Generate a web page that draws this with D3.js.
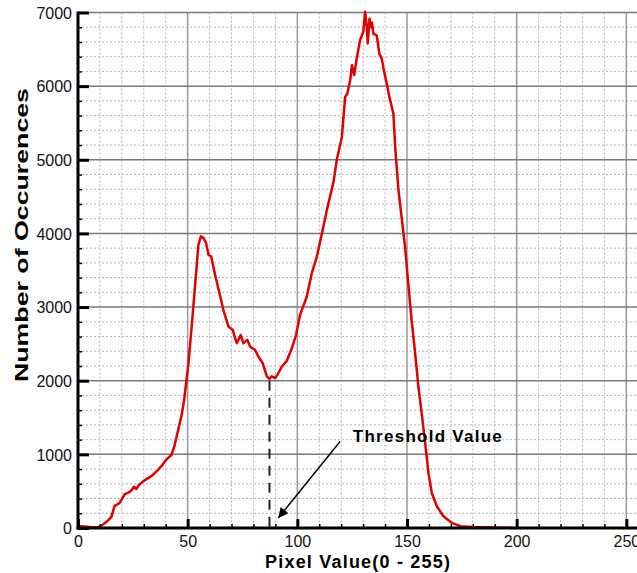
<!DOCTYPE html>
<html>
<head>
<meta charset="utf-8">
<script src="https://cdn.jsdelivr.net/npm/d3@7"></script>
<style>
body { margin: 0; background: #fff; }
svg { display: block; font-family: Arial, "Liberation Sans", sans-serif; }
</style>
</head>
<body>
<svg id="chart" width="637" height="573"></svg>
<script>
"use strict";

// histogram readings: pixel value -> number of occurences
var pixelValue = [0, 3, 6, 9, 10, 12, 14, 15.2, 16.7, 19, 21.3, 23, 24.3, 25.5, 26.6, 28, 29.6, 31, 32.7, 34.5,
    36.5, 38, 39.5, 41, 42.6, 44.1, 45.5, 47.1, 48.4, 50.3, 51.9, 53.4, 54.9, 56, 57.2, 58.4, 59.5, 60.7, 62.5, 64.5,
    66.3, 68.6, 70.6, 71.5, 72.4, 74.2, 75.4, 77.2, 78.5, 80.7, 82.2, 84.2, 86.1, 87.3, 88.3, 89.9, 90.9, 92.9, 95.2, 97.5,
    99.4, 101.3, 104.3, 106.6, 108.9, 111.2, 113.5, 116.5, 118, 120.3, 121.8, 122.8, 124.1, 124.9, 125.9, 127.1, 128.6, 130.1, 130.9, 131.6,
    132.1, 132.9, 133.5, 134, 134.7, 136.2, 137.4, 138.5, 139.5, 140.8, 142.3, 143.8, 144.6, 146.1, 147.7, 149.1, 150.7, 152.1, 153.7, 155.2,
    156.7, 158.3, 159.8, 161.3, 163.6, 166.6, 170.4, 174.3, 180, 186, 193, 200];
var occurrences = [25, 20, 10, 15, 20, 60, 110, 150, 300, 340, 460, 480, 510, 560, 530, 590, 630, 660, 690, 730,
    790, 840, 900, 950, 990, 1130, 1310, 1510, 1740, 2220, 2760, 3300, 3845, 3960, 3940, 3870, 3710, 3690, 3440, 3190,
    2960, 2735, 2690, 2590, 2510, 2620, 2510, 2555, 2460, 2420, 2330, 2240, 2060, 2025, 2060, 2035, 2080, 2190, 2270, 2440,
    2620, 2900, 3140, 3460, 3685, 4000, 4320, 4700, 5000, 5310, 5850, 5900, 6080, 6285, 6150, 6375, 6625, 6740, 7010, 6830,
    6580, 6915, 6800, 6865, 6710, 6690, 6440, 6370, 6210, 6030, 5810, 5630, 5180, 4590, 4180, 3820, 3280, 2825, 2375, 1920,
    1560, 1150, 745, 475, 295, 160, 70, 25, 15, 10, 5, 0];

var xMajorTicks = [0, 50, 100, 150, 200, 250];
var xMinorTicks = [10, 20, 30, 40, 60, 70, 80, 90, 110, 120, 130, 140, 160, 170, 180, 190, 210, 220, 230, 240];
var yMajorTicks = [0, 1000, 2000, 3000, 4000, 5000, 6000, 7000];
var yMinorTicks = [200, 400, 600, 800, 1200, 1400, 1600, 1800, 2200, 2400, 2600, 2800, 3200, 3400, 3600, 3800,
    4200, 4400, 4600, 4800, 5200, 5400, 5600, 5800, 6200, 6400, 6600, 6800];

var thresholdPixel = 87.3;
var thresholdTop = 2000;
var thresholdLabel = "Threshold Value";
var labelAt = [125.3, 1171];
var arrowFrom = [119.5, 1175];
var arrowTo = [91.3, 136];

var xTitle = "Pixel Value(0 - 255)";
var yTitle = "Number of Occurences";

var margin = { left: 78, top: 12.5, bottom: 45 };
var svg = d3.select("#chart");
var width = +svg.attr("width");
var height = +svg.attr("height");

var x = d3.scaleLinear().domain([0, 255]).range([margin.left, 637.3]);
var y = d3.scaleLinear().domain([0, 7000]).range([height - margin.bottom, margin.top]);

var x0 = x(0), xEnd = x(255), y0 = y(0), yTop = y(7000);

// minor dotted grid
var grid = svg.append("g").attr("class", "grid");

grid.selectAll("line.minorX")
    .data(xMinorTicks)
    .enter().append("line")
    .attr("x1", function(d) { return x(d); })
    .attr("x2", function(d) { return x(d); })
    .attr("y1", yTop).attr("y2", y0)
    .attr("stroke", "#b4b4b4").attr("stroke-width", 1)
    .attr("stroke-dasharray", "2,2");

grid.selectAll("line.minorY")
    .data(yMinorTicks)
    .enter().append("line")
    .attr("x1", x0).attr("x2", xEnd)
    .attr("y1", function(d) { return y(d); })
    .attr("y2", function(d) { return y(d); })
    .attr("stroke", "#b4b4b4").attr("stroke-width", 1)
    .attr("stroke-dasharray", "2,2");

// major grid
grid.selectAll("line.majorX")
    .data(xMajorTicks.slice(1))
    .enter().append("line")
    .attr("x1", function(d) { return x(d); })
    .attr("x2", function(d) { return x(d); })
    .attr("y1", yTop).attr("y2", y0)
    .attr("stroke", "#9a9a9a").attr("stroke-width", 1.5);

grid.selectAll("line.majorY")
    .data(yMajorTicks.slice(1))
    .enter().append("line")
    .attr("x1", x0).attr("x2", xEnd)
    .attr("y1", function(d) { return y(d); })
    .attr("y2", function(d) { return y(d); })
    .attr("stroke", "#7a7a7a").attr("stroke-width", 1.5);

// histogram curve
var line = d3.line()
    .x(function(d) { return x(d[0]); })
    .y(function(d) { return y(d[1]); });

svg.append("path")
    .datum(d3.zip(pixelValue, occurrences))
    .attr("d", line)
    .attr("fill", "none")
    .attr("stroke", "#e00000")
    .attr("stroke-width", 2.5)
    .attr("stroke-linejoin", "round");

// threshold marker
svg.append("line")
    .attr("x1", x(thresholdPixel)).attr("x2", x(thresholdPixel))
    .attr("y1", y(thresholdTop)).attr("y2", y0)
    .attr("stroke", "#222").attr("stroke-width", 2)
    .attr("stroke-dasharray", "10,7");

svg.append("defs").append("marker")
    .attr("id", "arrowHead")
    .attr("viewBox", "0 0 10 10")
    .attr("refX", 10).attr("refY", 5)
    .attr("markerUnits", "userSpaceOnUse")
    .attr("markerWidth", 17).attr("markerHeight", 10)
    .attr("orient", "auto")
    .append("path")
    .attr("d", "M0,0L10,5L0,10z")
    .attr("fill", "#000");

svg.append("line")
    .attr("x1", x(arrowFrom[0])).attr("y1", y(arrowFrom[1]))
    .attr("x2", x(arrowTo[0])).attr("y2", y(arrowTo[1]))
    .attr("stroke", "#000").attr("stroke-width", 1.5)
    .attr("marker-end", "url(#arrowHead)");

svg.append("text")
    .attr("x", x(labelAt[0])).attr("y", y(labelAt[1]))
    .attr("font-size", 17).attr("font-weight", "bold")
    .attr("textLength", 149)
    .attr("fill", "#000")
    .text(thresholdLabel);

// axes, ticks pointing inward
var minorLeft = d3.axisLeft(y).tickValues(yMinorTicks).tickSizeInner(-4).tickSizeOuter(0).tickFormat("");
var minorBottom = d3.axisBottom(x).tickValues(xMinorTicks).tickSizeInner(-4).tickSizeOuter(0).tickFormat("");

var majorLeft = d3.axisLeft(y).tickValues(yMajorTicks).tickSizeInner(-11).tickSizeOuter(0).tickPadding(6).tickFormat(d3.format("d"));
var majorBottom = d3.axisBottom(x).tickValues(xMajorTicks).tickSizeInner(-9).tickSizeOuter(0).tickPadding(4).tickFormat(d3.format("d"));

function styleAxis(g, w) {
    g.select(".domain").remove();
    g.selectAll(".tick line").attr("stroke", "#000").attr("stroke-width", w);
    g.selectAll(".tick text").attr("fill", "#111").attr("font-size", 16).attr("font-family", null);
}

svg.append("g").attr("transform", "translate(" + x0 + ",0)").call(minorLeft).call(styleAxis, 1.5);
svg.append("g").attr("transform", "translate(0," + y0 + ")").call(minorBottom).call(styleAxis, 1.5);

var leftAxis = svg.append("g").attr("transform", "translate(" + x0 + ",0)").call(majorLeft).call(styleAxis, 3);
var bottomAxis = svg.append("g").attr("transform", "translate(0," + y0 + ")").call(majorBottom).call(styleAxis, 3);

leftAxis.selectAll(".tick text").attr("dy", "0.36em");
bottomAxis.selectAll(".tick text").attr("dy", "0.93em");

svg.append("line")
    .attr("x1", x0).attr("x2", x0)
    .attr("y1", yTop - 1).attr("y2", y0 + 1.5)
    .attr("stroke", "#000").attr("stroke-width", 3);

svg.append("line")
    .attr("x1", x0 - 1.5).attr("x2", width)
    .attr("y1", y0).attr("y2", y0)
    .attr("stroke", "#000").attr("stroke-width", 3);

// titles
svg.append("text")
    .attr("x", 357.5).attr("y", 567.5)
    .attr("text-anchor", "middle")
    .attr("font-size", 18).attr("font-weight", "bold")
    .attr("textLength", 185)
    .attr("fill", "#000")
    .text(xTitle);

svg.append("text")
    .attr("transform", "translate(27.5,235) rotate(-90)")
    .attr("text-anchor", "middle")
    .attr("font-size", 19).attr("font-weight", "bold")
    .attr("textLength", 294)
    .attr("lengthAdjust", "spacingAndGlyphs")
    .attr("fill", "#000")
    .text(yTitle);
</script>
</body>
</html>
